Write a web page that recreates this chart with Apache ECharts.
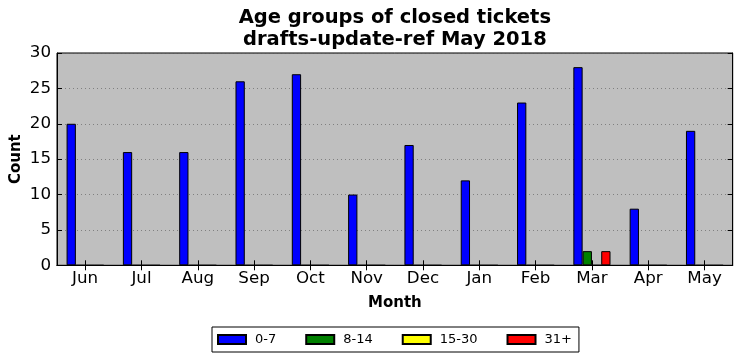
<!DOCTYPE html>
<html>
<head>
<meta charset="utf-8">
<script src="https://cdn.jsdelivr.net/npm/echarts@6/dist/echarts.min.js"></script>
<style>html,body{margin:0;padding:0;background:#fff}#c{width:742px;height:361px}</style>
</head>
<body>
<div id="c"></div>
<script>
const months = ['Jun','Jul','Aug','Sep','Oct','Nov','Dec','Jan','Feb','Mar','Apr','May'];
const age0to7 = [20,16,16,26,27,10,17,12,23,28,8,19];
const age8to14 = [0,0,0,0,0,0,0,0,0,2,0,0];
const age15to30 = [0,0,0,0,0,0,0,0,0,0,0,0];
const age31plus = [0,0,0,0,0,0,0,0,0,2,0,0];
const seriesNames = ['0-7','8-14','15-30','31+'];
const seriesColors = ['#0000ff','#008000','#ffff00','#ff0000'];
const yTicks = [0,5,10,15,20,25,30];

const FONT = 'DejaVu Sans';
const chart = echarts.init(document.getElementById('c'), null, {renderer:'canvas'});
const data = [age0to7, age8to14, age15to30, age31plus];
const gridL = 57, gridR = 9.3, gridT = 53, gridB = 95.7;
const plotCenter = gridL + (742 - gridL - gridR) / 2;

chart.setOption({
  backgroundColor: '#ffffff',
  animation: false,
  title: {
    text: 'Age groups of closed tickets\ndrafts-update-ref May 2018',
    left: plotCenter,
    top: 7,
    padding: 0,
    textAlign: 'center',
    textStyle: {fontFamily: FONT, fontWeight: 'bold', fontSize: 19.5, lineHeight: 22, color: '#000'}
  },
  legend: {
    data: seriesNames,
    left: 212,
    top: 327,
    orient: 'horizontal',
    itemWidth: 28,
    itemHeight: 9,
    itemGap: 29,
    padding: [6, 7, 6, 5],
    borderColor: '#000',
    borderWidth: 1,
    backgroundColor: '#fff',
    icon: 'rect',
    textStyle: {fontFamily: FONT, fontSize: 13, color: '#000', padding: [0,0,0,4]}
  },
  grid: {
    left: gridL, right: gridR, top: gridT, bottom: gridB,
    containLabel: false,
    outerBoundsMode: 'none',
    show: true, backgroundColor: '#bfbfbf', borderColor: '#000', borderWidth: 1
  },
  xAxis: [{
    type: 'category',
    data: months,
    boundaryGap: true,
    position: 'bottom',
    name: 'Month',
    nameLocation: 'middle',
    nameGap: 30,
    nameMoveOverlap: false,
    nameTextStyle: {fontFamily: FONT, fontWeight: 'bold', fontSize: 15, color: '#000'},
    axisLine: {show: true, lineStyle: {color: '#000', width: 1}},
    axisTick: {show: true, inside: true, alignWithLabel: true, length: 5, lineStyle: {color: '#000'}},
    axisLabel: {fontFamily: FONT, fontSize: 16.7, color: '#000', margin: 5},
    splitLine: {show: false}
  }, {
    type: 'category',
    data: months,
    boundaryGap: true,
    position: 'top',
    axisLine: {show: true, lineStyle: {color: '#000', width: 1}},
    axisTick: {show: true, inside: true, alignWithLabel: true, length: 5, lineStyle: {color: '#000'}},
    axisLabel: {show: false},
    splitLine: {show: false}
  }],
  yAxis: [{
    type: 'value',
    min: yTicks[0], max: yTicks[yTicks.length-1], interval: 5,
    name: 'Count',
    nameLocation: 'middle',
    nameGap: 33,
    nameMoveOverlap: false,
    nameTextStyle: {fontFamily: FONT, fontWeight: 'bold', fontSize: 15, color: '#000'},
    axisLine: {show: true, lineStyle: {color: '#000', width: 1}},
    axisTick: {show: true, inside: true, length: 5, lineStyle: {color: '#000'}},
    axisLabel: {fontFamily: FONT, fontSize: 16.7, color: '#000', margin: 6},
    splitLine: {show: true, lineStyle: {color: '#555', width: 0.6, type: [1, 3]}}
  }, {
    type: 'value',
    min: yTicks[0], max: yTicks[yTicks.length-1], interval: 5,
    position: 'right',
    axisLine: {show: true, lineStyle: {color: '#000', width: 1}},
    axisTick: {show: true, inside: true, length: 5, lineStyle: {color: '#000'}},
    axisLabel: {show: false},
    splitLine: {show: false}
  }],
  series: seriesNames.map((n, i) => ({
    name: n,
    type: 'bar',
    xAxisIndex: 0,
    yAxisIndex: 0,
    data: data[i],
    barWidth: '16.5%',
    barGap: '0%',
    itemStyle: {color: seriesColors[i], borderColor: '#000', borderWidth: 1}
  }))
});
</script>
</body>
</html>
